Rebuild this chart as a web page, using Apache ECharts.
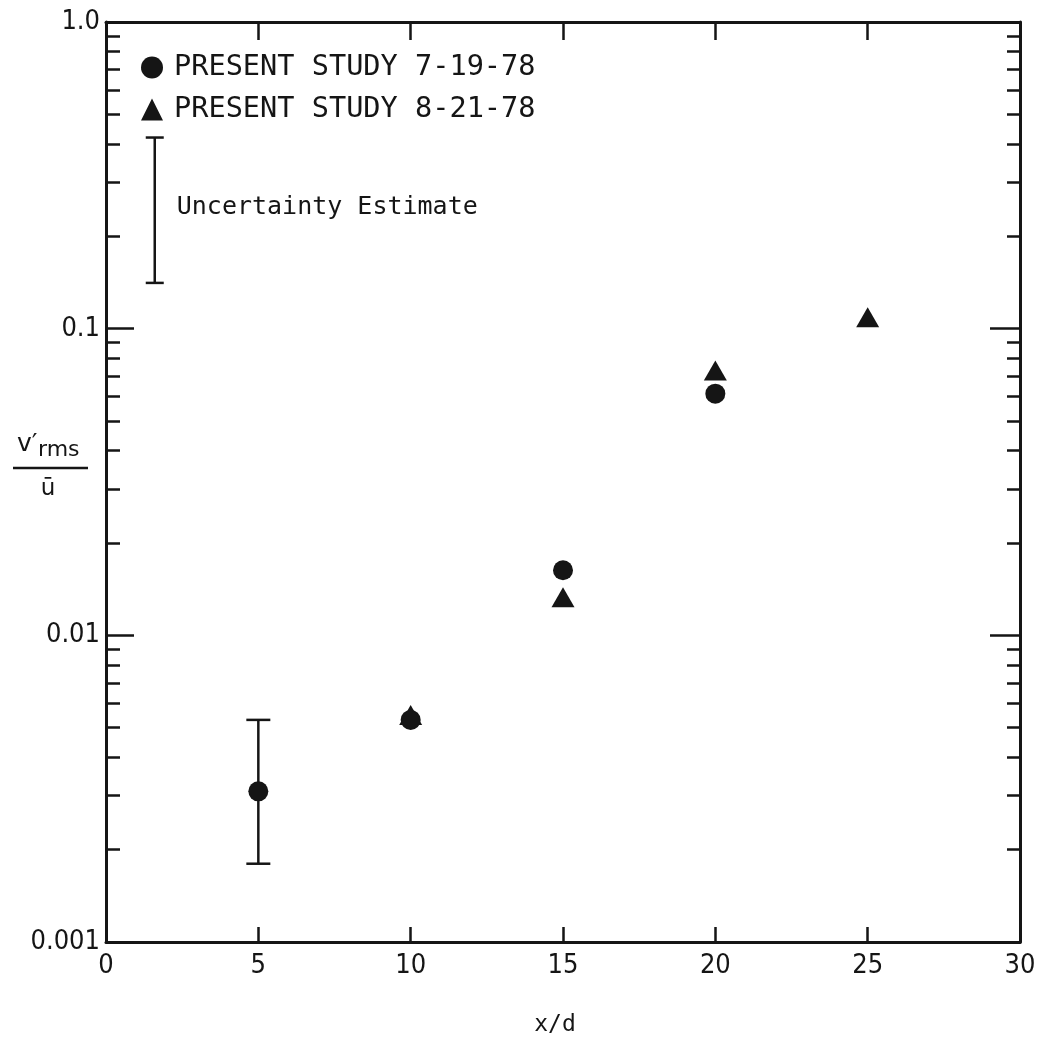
<!DOCTYPE html>
<html>
<head>
<meta charset="utf-8">
<title>v'rms / u vs x/d</title>
<script src="https://cdn.jsdelivr.net/npm/echarts@6/dist/echarts.min.js"></script>
<style>
  html, body { margin: 0; padding: 0; background: #fff; }
  #chart { width: 1042px; height: 1042px; }
</style>
</head>
<body>
<div id="chart"></div>
<script>
// Measurements, run of 7-19-78
const xRun1 = [5, 10, 15, 20];
const yRun1 = [0.0031, 0.0053, 0.0163, 0.0614];

// Measurements, run of 8-21-78
const xRun2 = [10, 15, 20, 25];
const yRun2 = [0.0055, 0.0133, 0.073, 0.109];

// Error bar on the x/d = 5 point: [x, low, high]
const errorBars = [[5, 0.0018, 0.0053]];

// Key bar for the uncertainty estimate: [x, low, high]
const keyBar = [[1.6, 0.141, 0.42]];

// Axes
const xTickValues = [0, 5, 10, 15, 20, 25, 30];
const yDecades = [0.001, 0.01, 0.1, 1];
const yDecadeLabels = ['0.001', '0.01', '0.1', '1.0'];
const yMinor = [];
[0.001, 0.01, 0.1].forEach(function (d) {
  for (let k = 2; k <= 9; k++) yMinor.push(+(d * k).toPrecision(3));
});

const INK = '#151515';
const tickFont = "'Liberation Sans Narrow', 'DejaVu Sans Condensed', 'DejaVu Sans', sans-serif";
const monoFont = "'DejaVu Sans Mono', 'Liberation Mono', monospace";

function zip(xs, ys) { return xs.map(function (x, i) { return [x, ys[i]]; }); }

function barRenderer(capHalf) {
  return function (params, api) {
    const x = api.value(0);
    const lo = api.coord([x, api.value(1)]);
    const hi = api.coord([x, api.value(2)]);
    const st = { stroke: INK, lineWidth: 2.5 };
    return {
      type: 'group',
      children: [
        { type: 'line', shape: { x1: lo[0], y1: lo[1], x2: hi[0], y2: hi[1] }, style: st },
        { type: 'line', shape: { x1: hi[0] - capHalf, y1: hi[1], x2: hi[0] + capHalf, y2: hi[1] }, style: st },
        { type: 'line', shape: { x1: lo[0] - capHalf, y1: lo[1], x2: lo[0] + capHalf, y2: lo[1] }, style: st }
      ]
    };
  };
}

function yAxisBase(position, tickLen, customTicks, showLine, showLabel) {
  return {
    type: 'log',
    logBase: 10,
    min: 0.001,
    max: 1,
    position: position,
    axisLine: { show: showLine, onZero: false, lineStyle: { color: INK, width: 3 } },
    axisTick: {
      show: true, inside: true, length: tickLen,
      lineStyle: { color: INK, width: 2.5 },
      customValues: customTicks
    },
    axisLabel: {
      show: showLabel,
      customValues: showLabel ? yDecades : undefined,
      margin: 6,
      color: INK,
      fontFamily: tickFont,
      fontSize: 27,
      formatter: function (v) {
        const i = yDecades.findIndex(function (d) { return Math.abs(d - v) / d < 1e-6; });
        return i >= 0 ? yDecadeLabels[i] : '';
      }
    },
    splitLine: { show: false },
    minorTick: { show: false },
    minorSplitLine: { show: false }
  };
}

function xAxisBase(position, tickLen, showLabel) {
  return {
    type: 'value',
    min: 0,
    max: 30,
    interval: 5,
    position: position,
    axisLine: { show: true, onZero: false, lineStyle: { color: INK, width: 3 } },
    axisTick: { show: true, inside: true, length: tickLen, lineStyle: { color: INK, width: 2.5 } },
    axisLabel: {
      show: showLabel,
      margin: 10,
      color: INK,
      fontFamily: tickFont,
      fontSize: 27,
      formatter: function (v) { return xTickValues.indexOf(v) >= 0 ? String(v) : ''; }
    },
    splitLine: { show: false }
  };
}

const chart = echarts.init(document.getElementById('chart'), null, { renderer: 'canvas' });

chart.setOption({
  backgroundColor: '#ffffff',
  animation: false,
  grid: { left: 106, right: 22, top: 22, bottom: 99, containLabel: false },
  xAxis: [
    Object.assign(xAxisBase('bottom', 15, true), {
      name: 'x/d',
      nameLocation: 'middle',
      nameGap: 72,
      nameTextStyle: { color: INK, fontFamily: monoFont, fontSize: 23, padding: [0, 16, 0, 0] }
    }),
    xAxisBase('top', 18, false)
  ],
  yAxis: [
    yAxisBase('left', 28, yDecades, true, true),
    yAxisBase('left', 14, yMinor, false, false),
    yAxisBase('right', 30, yDecades, true, false),
    yAxisBase('right', 13, yMinor, false, false)
  ],
  legend: {
    orient: 'vertical',
    left: 141,
    top: 53,
    itemWidth: 22,
    itemHeight: 22,
    itemGap: 13,
    padding: 0,
    data: [
      { name: 'PRESENT STUDY 7-19-78', icon: 'circle' },
      { name: 'PRESENT STUDY 8-21-78', icon: 'triangle' }
    ],
    textStyle: { color: INK, fontFamily: monoFont, fontSize: 28.6, padding: [0, 0, 0, 6] }
  },
  // Y-axis quantity written as a fraction: v'rms over u-bar
  graphic: [
    {
      type: 'group',
      children: [
        { type: 'text', x: 17, y: 444, style: { text: 'v′', font: "25px 'DejaVu Sans', sans-serif", fill: INK, verticalAlign: 'middle' } },
        { type: 'text', x: 38, y: 450, style: { text: 'rms', font: "22px 'DejaVu Sans', sans-serif", fill: INK, verticalAlign: 'middle' } },
        { type: 'line', shape: { x1: 13, y1: 468, x2: 88, y2: 468 }, style: { stroke: INK, lineWidth: 2.5 } },
        { type: 'text', x: 48, y: 489, style: { text: 'ū', font: "23px 'DejaVu Sans', sans-serif", fill: INK, verticalAlign: 'middle', align: 'center' } }
      ]
    }
  ],
  series: [
    {
      name: 'PRESENT STUDY 7-19-78',
      type: 'scatter',
      xAxisIndex: 0,
      yAxisIndex: 0,
      symbol: 'circle',
      symbolSize: 20,
      itemStyle: { color: INK, opacity: 1 },
      data: zip(xRun1, yRun1),
      z: 3
    },
    {
      name: 'PRESENT STUDY 8-21-78',
      type: 'scatter',
      xAxisIndex: 0,
      yAxisIndex: 0,
      symbol: 'triangle',
      symbolSize: [23, 20],
      itemStyle: { color: INK, opacity: 1 },
      data: zip(xRun2, yRun2),
      z: 4
    },
    {
      name: 'error',
      type: 'custom',
      xAxisIndex: 0,
      yAxisIndex: 0,
      clip: false,
      renderItem: barRenderer(12),
      encode: { x: 0, y: [1, 2] },
      data: errorBars,
      z: 2
    },
    {
      name: 'key',
      type: 'custom',
      xAxisIndex: 0,
      yAxisIndex: 0,
      clip: false,
      renderItem: function (params, api) {
        const g = barRenderer(9)(params, api);
        const x = api.value(0);
        const mid = Math.sqrt(api.value(1) * api.value(2));
        const p = api.coord([x, mid]);
        g.children.push({
          type: 'text',
          x: p[0] + 22,
          y: p[1] - 3,
          style: {
            text: 'Uncertainty Estimate',
            font: "25px 'DejaVu Sans Mono', monospace",
            fill: INK,
            verticalAlign: 'middle',
            align: 'left'
          }
        });
        return g;
      },
      encode: { x: 0, y: [1, 2] },
      data: keyBar,
      z: 2
    }
  ]
});
</script>
</body>
</html>
